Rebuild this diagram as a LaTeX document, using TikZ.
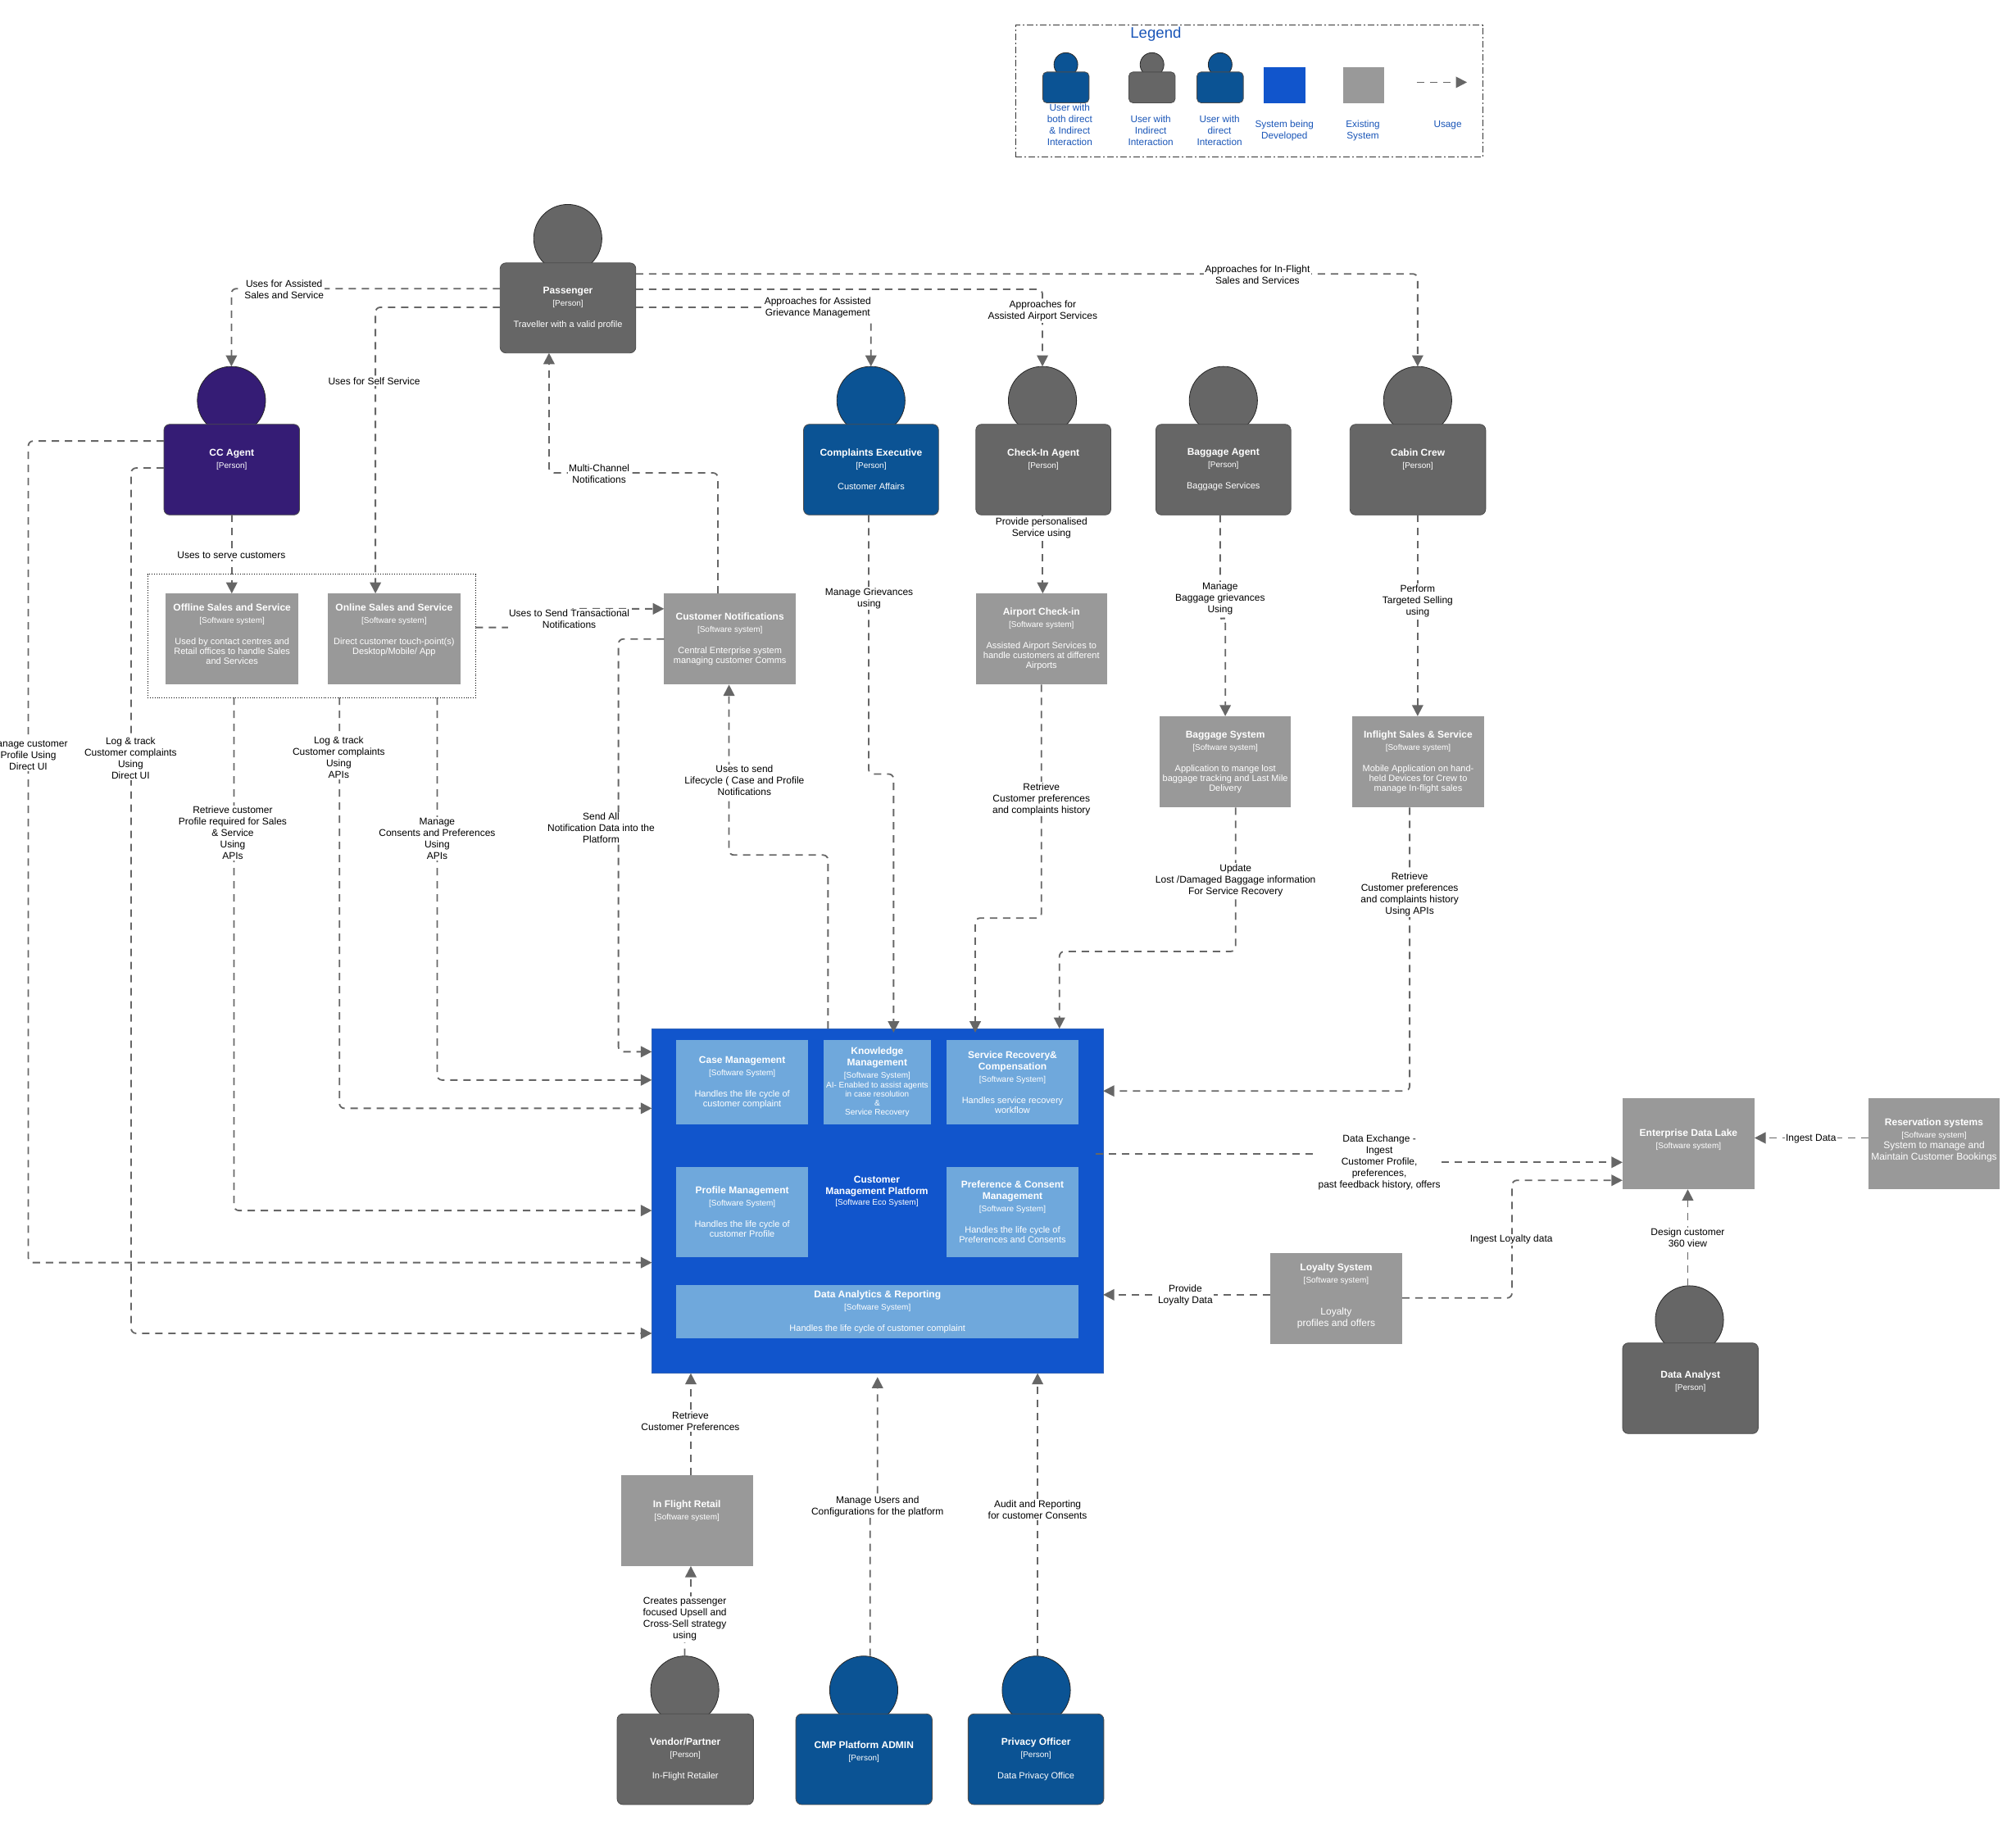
\documentclass[tikz,border=0pt]{standalone}
\usepackage{fontspec}
\setmainfont{Liberation Sans}
\usetikzlibrary{arrows.meta,calc}
\definecolor{sysgrey}{HTML}{999999}
\definecolor{pgrey}{HTML}{666666}
\definecolor{pblue}{HTML}{0B5394}
\definecolor{ppurple}{HTML}{351C75}
\definecolor{cmpblue}{HTML}{1155CC}
\definecolor{innerblue}{HTML}{6FA8DC}
\definecolor{legendblue}{HTML}{1A56B8}
\newcommand\ttlf{\fontsize{6}{7}\selectfont\bfseries}
\newcommand\typf{\fontsize{5}{7}\selectfont\mdseries}
\newcommand\descf{\fontsize{5.5}{7}\selectfont\mdseries}
\newcommand\tinyf{\fontsize{5}{7}\selectfont\mdseries}
\newcommand\lgf{\fontsize{6}{7}\selectfont\mdseries}
\newcommand\tl{\\\ttlf }
\newcommand\dl{\\[-1pt]\descf }
\newcommand\bx[3]{\ttlf #1\\[.5pt]\typf #2\\[6pt]\descf #3}
\tikzset{
  nodefont/.style={font=\fontsize{5.5}{7}\selectfont},
  headshape/.style={circle,draw=black!85,line width=.4pt,inner sep=0pt,outer sep=0pt},
  bodyshape/.style={rectangle,rounded corners=3.5pt,draw=black!70,line width=.4pt,inner sep=0pt,outer sep=0pt,align=center,text=white,nodefont},
  sysbox/.style={rectangle,inner sep=0pt,outer sep=0pt,align=center,text=white,nodefont},
  conn/.style={draw=pgrey,line width=.9pt,dash pattern=on 4.5pt off 3.5pt,rounded corners=3pt,-{Triangle[length=6.8pt,width=6.8pt,fill=pgrey]}},
  lbl/.style={align=center,fill=white,inner sep=.7pt,text=black,yshift=-.4pt,font=\fontsize{6}{7}\selectfont},
  legendtxt/.style={align=center,inner sep=0pt,text=legendblue,font=\fontsize{5.9}{7}\selectfont}
}
\newcommand\personnode[9]{%
  \pgfmathsetlengthmacro\nW{(#4-#2)*0.78444}%
  \pgfmathsetlengthmacro\nH{(#5-#3)*0.78444}%
  \node[headshape,fill=#8,minimum size=41.6pt,anchor=north] (#1H) at (#6,#7) {};
  \node[bodyshape,fill=#8,minimum width=\nW,minimum height=\nH] (#1) at ({(#2+#4)/2},{(#3+#5)/2}) {#9};
}
\newcommand\sysnode[7]{%
  \pgfmathsetlengthmacro\nW{(#4-#2)*0.78444}%
  \pgfmathsetlengthmacro\nH{(#5-#3)*0.78444}%
  \node[sysbox,fill=#6,minimum width=\nW,minimum height=\nH] (#1) at ({(#2+#4)/2},{(#3+#5)/2}) {#7};
}
\newcommand\legendperson[6]{%
  \pgfmathsetlengthmacro\nW{(#4-#2)*0.78444}%
  \pgfmathsetlengthmacro\nH{(#5-#3)*0.78444}%
  \node[headshape,fill=#6,minimum size=14.5pt,anchor=north] (#1H) at ({(#2+#4)/2},41) {};
  \node[bodyshape,rounded corners=2.5pt,fill=#6,minimum width=\nW,minimum height=\nH] (#1) at ({(#2+#4)/2},{(#3+#5)/2}) {};
}
\begin{document}
\begin{tikzpicture}[x=0.78444pt,y=-0.78444pt]
\path[use as bounding box,fill=white] (0,0) rectangle (1568,1415.7);

% Legend
\pgfmathsetlengthmacro\lgW{(1153.6-790)*0.78444}
\pgfmathsetlengthmacro\lgH{(122-19.5)*0.78444}
\node[draw=black!80,line width=.45pt,dash pattern=on 4pt off 1.5pt on 1pt off 1.5pt,minimum width=\lgW,minimum height=\lgH,inner sep=0pt] (legend) at ({(790+1153.6)/2},{(19.5+122)/2}) {};
\node[inner sep=0pt,text=legendblue,font=\fontsize{9.3}{11}\selectfont] (legendT) at (899,26.5) {Legend};
\legendperson{lgA}{811}{56}{847}{80}{pblue}
\legendperson{lgB}{878}{56}{914}{80}{pgrey}
\legendperson{lgC}{931}{56}{967}{80}{pblue}
\sysnode{lgD}{983}{52.5}{1015.5}{80}{cmpblue}{}
\sysnode{lgE}{1044.6}{52.5}{1076.5}{80}{sysgrey}{}
\node[legendtxt] (lgAt) at (832,97) {User with\\both direct\\\& Indirect\\Interaction};
\node[legendtxt] (lgBt) at (895,101.5) {User with\\Indirect\\Interaction};
\node[legendtxt] (lgCt) at (948.5,101.5) {User with\\direct\\Interaction};
\node[legendtxt] (lgDt) at (999,101.5) {System being\\Developed};
\node[legendtxt] (lgEt) at (1060,101.5) {Existing\\System};
\node[legendtxt] (lgFt) at (1126,97) {Usage};
\coordinate (usgA) at (1102,64);
\coordinate (usgB) at (1141,64);

% Persons
\personnode{pax}{389}{204.5}{494.5}{274.5}{441.6}{159}{pgrey}{\bx{Passenger}{[Person]}{Traveller with a valid profile}}
\personnode{cca}{127.5}{330}{233}{400.5}{180}{285}{ppurple}{\bx{CC Agent}{[Person]}{\mbox{}}}
\personnode{cex}{625}{330}{730}{400.5}{677.4}{285}{pblue}{\bx{Complaints Executive}{[Person]}{Customer Affairs}}
\personnode{cia}{759}{330}{864}{400.5}{810.8}{285}{pgrey}{\bx{Check-In Agent}{[Person]}{\mbox{}}}
\personnode{bag}{899}{330}{1004}{400.5}{951.5}{285}{pgrey}{\bx{Baggage Agent}{[Person]}{Baggage Services}}
\personnode{cab}{1050}{330}{1155.5}{400.5}{1102.6}{285}{pgrey}{\bx{Cabin Crew}{[Person]}{\mbox{}}}
\personnode{ana}{1262}{1044.5}{1367.5}{1115}{1314}{1000}{pgrey}{\ttlf Data Analyst\\[.5pt]\typf [Person]\\[2.5pt]\descf\mbox{}}
\personnode{ven}{480}{1333}{586}{1403.5}{532.6}{1288}{pgrey}{\bx{Vendor/Partner}{[Person]}{In-Flight Retailer}}
\personnode{adm}{619}{1333}{725}{1403.5}{671.8}{1288}{pblue}{\ttlf CMP Platform ADMIN\\[.5pt]\typf [Person]\\[2.5pt]\descf\mbox{}}
\personnode{prv}{753}{1333}{858.5}{1403.5}{806}{1288}{pblue}{\bx{Privacy Officer}{[Person]}{Data Privacy Office}}

% Channel group
\pgfmathsetlengthmacro\grW{(370-114.7)*0.78444}
\pgfmathsetlengthmacro\grH{(542.5-446.5)*0.78444}
\node[draw=black,line width=.45pt,densely dotted,minimum width=\grW,minimum height=\grH,inner sep=0pt,outer sep=0pt] (grp) at ({(114.7+370)/2},{(446.5+542.5)/2}) {};

% Software systems
\sysnode{off}{129}{461.6}{232}{532.5}{sysgrey}{\bx{Offline Sales and Service}{[Software system]}{Used by contact centres and\dl Retail offices to handle Sales\dl and Services\dl\mbox{}}}
\sysnode{onl}{255}{461.6}{358}{532.5}{sysgrey}{\bx{Online Sales and Service}{[Software system]}{Direct customer touch-point(s)\dl Desktop/Mobile/ App\dl\mbox{}\dl\mbox{}}}
\sysnode{ntf}{516.5}{461.6}{619}{532.5}{sysgrey}{\bx{Customer Notifications}{[Software system]}{Central Enterprise system\dl managing customer Comms}}
\sysnode{apt}{759}{461.6}{861}{532.5}{sysgrey}{\bx{Airport Check-in}{[Software system]}{Assisted Airport Services to\dl handle customers at different\dl Airports}}
\sysnode{bgs}{902}{557}{1004}{628}{sysgrey}{\bx{Baggage System}{[Software system]}{Application to mange lost\dl baggage tracking and Last Mile\dl Delivery}}
\sysnode{ifs}{1052}{557}{1154}{628}{sysgrey}{\bx{Inflight Sales \& Service}{[Software system]}{Mobile Application on hand-\dl held Devices for Crew to\dl manage In-flight sales}}
\sysnode{edl}{1262}{854}{1364.6}{925}{sysgrey}{\ttlf Enterprise Data Lake\\[.5pt]\typf [Software system]\\[-1pt]\descf\mbox{}}
\sysnode{res}{1453}{854}{1555.5}{925}{sysgrey}{\ttlf Reservation systems\\[.5pt]\typf [Software system]\\[-.6pt]\lgf System to manage and\\\lgf Maintain Customer Bookings\\[-1.5pt]\descf\mbox{}}
\sysnode{loy}{988}{974.5}{1090.5}{1045.5}{sysgrey}{\ttlf Loyalty System\\[.5pt]\typf [Software system]\\[12.5pt]\lgf Loyalty\\\lgf profiles and offers\\[-3pt]\descf\mbox{}}
\sysnode{ifr}{483}{1147.5}{585.5}{1218}{sysgrey}{\bx{In Flight Retail}{[Software system]}{\mbox{}}}

% Customer Management Platform
\pgfmathsetlengthmacro\cmW{(858-507)*0.78444}
\pgfmathsetlengthmacro\cmH{(1068-800)*0.78444}
\node[sysbox,fill=cmpblue,draw=cmpblue!70!gray,line width=.4pt,minimum width=\cmW,minimum height=\cmH] (cmp) at ({(507+858)/2},{(800+1068)/2}) {};
\sysnode{cas}{526}{809}{628.5}{874.5}{innerblue}{\bx{Case Management}{[Software System]}{Handles the life cycle of\dl customer complaint}}
\sysnode{kno}{640.5}{809}{724}{874.5}{innerblue}{\ttlf Knowledge\tl Management\\[.5pt]\typf [Software System]\\[-1pt]\tinyf AI- Enabled to assist agents\\[-1.5pt]\tinyf in case resolution\\[-1.5pt]\tinyf\&\\[-1.5pt]\tinyf Service Recovery}
\sysnode{srv}{736}{809}{839}{874.5}{innerblue}{\bx{Service Recovery\&\tl Compensation}{[Software System]}{Handles service recovery\dl workflow}}
\sysnode{prf}{526}{907.5}{628.5}{978}{innerblue}{\bx{Profile Management}{[Software System]}{Handles the life cycle of\dl customer Profile}}
\sysnode{pcm}{736}{907.5}{839}{978}{innerblue}{\bx{Preference \& Consent\tl Management}{[Software System]}{Handles the life cycle of\dl Preferences and Consents}}
\sysnode{dar}{526}{999.6}{839}{1041}{innerblue}{\bx{Data Analytics \& Reporting}{[Software System]}{Handles the life cycle of customer complaint}}
\node[inner sep=0pt,align=center,text=white,nodefont] (cmpT) at (682,926.5) {\ttlf Customer\tl Management Platform\\[-.5pt]\typf [Software Eco System]};

% Connectors
\draw[conn] (usgA) -- (usgB);
\draw[conn] (pax.west |- 0,224.5) -- (180,224.5) -- (ccaH.north);
\draw[conn] (pax.west |- 0,239) -- (292,239) -- (onl.north -| 292,0);
\draw[conn] (pax.east |- 0,239) -- (677.4,239) -- (cexH.north);
\draw[conn] (pax.east |- 0,225) -- (810.8,225) -- (ciaH.north);
\draw[conn] (pax.east |- 0,213) -- (1102.6,213) -- (cabH.north);
\draw[conn] (ntf.north -| 558.4,0) -- (558.4,367.8) -- (427,367.8) -- (pax.south -| 427,0);
\draw[conn] (cca.south) -- (off.north -| cca.south);
\draw[conn] (cca.west |- 0,343) -- (22,343) -- (22,982) -- (cmp.west |- 0,982);
\draw[conn] (cca.west |- 0,364) -- (102,364) -- (102,1037) -- (cmp.west |- 0,1037);
\draw[conn] (grp.east |- 0,488) -- (443,488) -- (443,473.5) -- (ntf.west |- 0,473.5);
\draw[conn] (ntf.west |- 0,497) -- (481,497) -- (481,818) -- (cmp.west |- 0,818);
\draw[conn] (cmp.north -| 644,0) -- (644,665) -- (567,665) -- (ntf.south -| 567,0);
\draw[conn] (cex.south -| 675.6,0) -- (675.6,602) -- (695,602) -- (695,803);
\draw[conn] (cia.south -| 811,0) -- (apt.north -| 811,0);
\draw[conn] (apt.south -| 810,0) -- (810,714) -- (758.5,714) -- (758.5,803);
\draw[conn] (bag.south -| 949,0) -- (949,481) -- (953,481) -- (bgs.north);
\draw[conn] (cab.south -| 1102.6,0) -- (ifs.north -| 1102.6,0);
\draw[conn] (bgs.south -| 961,0) -- (961,740) -- (824,740) -- (cmp.north -| 824,0);
\draw[conn] (ifs.south -| 1096.4,0) -- (1096.4,848.5) -- (cmp.east |- 0,848.5);
\draw[conn] (grp.south -| 182,0) -- (182,941.5) -- (cmp.west |- 0,941.5);
\draw[conn] (grp.south -| 264,0) -- (264,862) -- (cmp.west |- 0,862);
\draw[conn] (grp.south -| 340,0) -- (340,840) -- (cmp.west |- 0,840);
\draw[conn,rounded corners=0pt] (852,897.5) -- (1073,897.5) -- (1073,904) -- (edl.west |- 0,904);
\draw[conn] (loy.east |- 0,1009.5) -- (1176,1009.5) -- (1176,918) -- (edl.west |- 0,918);
\draw[conn] (loy.west |- 0,1007) -- (cmp.east |- 0,1007);
\draw[conn] (res.west |- 0,885) -- (edl.east |- 0,885);
\draw[conn] (anaH.north -| 1312.7,0) -- (edl.south -| 1312.7,0);
\draw[conn] (ifr.north -| 537.3,0) -- (cmp.south -| 537.3,0);
\draw[conn] (venH.north) -- (532.6,1259) -- (537.3,1259) -- (ifr.south -| 537.3,0);
\draw[conn] (admH.north -| 676.7,0) -- (676.7,1171) -- (682.5,1171) -- (682.5,1071);
\draw[conn] (prvH.north -| 807,0) -- (cmp.south -| 807,0);

% Connector labels
\node[lbl] (l01) at (221,224.5) {Uses for Assisted\\Sales and Service};
\node[lbl] (l02) at (291,296) {Uses for Self Service};
\node[lbl] (l03) at (636,239) {Approaches for Assisted\\Grievance Management};
\node[lbl] (l04) at (811,241.5) {Approaches for\\Assisted Airport Services};
\node[lbl] (l05) at (978,213) {Approaches for In-Flight\\Sales and Services};
\node[lbl] (l06) at (466,367.8) {Multi-Channel\\Notifications};
\node[lbl] (l07) at (180,431) {Uses to serve customers};
\node[lbl] (l08) at (22,587) {Manage customer\\Profile Using\\Direct UI};
\node[lbl] (l09) at (101.6,589.5) {Log \& track\\Customer complaints\\Using\\Direct UI};
\node[lbl] (l10) at (442.7,481) {Uses to Send Transactional\\Notifications};
\node[lbl] (l11) at (467.5,643.5) {Send All\\Notification Data into the\\Platform};
\node[lbl] (l12) at (579,606.6) {Uses to send\\Lifecycle ( Case and Profile\\Notifications};
\node[lbl] (l13) at (676,465) {Manage Grievances\\using};
\node[lbl] (l14) at (810,410) {Provide personalised\\Service using};
\node[lbl] (l15) at (810,621) {Retrieve\\Customer preferences\\and complaints history};
\node[lbl] (l16) at (949,465) {Manage\\Baggage grievances\\Using};
\node[lbl] (l17) at (1102.6,467) {Perform\\Targeted Selling\\using};
\node[lbl] (l18) at (961,684) {Update\\Lost /Damaged Baggage information\\For Service Recovery};
\node[lbl] (l19) at (1096.4,695) {Retrieve\\Customer preferences\\and complaints history\\Using APIs};
\node[lbl] (l20) at (181,647.3) {Retrieve customer\\Profile required for Sales\\\& Service\\Using\\APIs};
\node[lbl] (l21) at (263.5,588.7) {Log \& track\\Customer complaints\\Using\\APIs};
\node[lbl] (l22) at (340,651.8) {Manage\\Consents and Preferences\\Using\\APIs};
\node[lbl] (l23) at (1072.8,903.6) {Data Exchange -\\Ingest\\Customer Profile,\\preferences,\\past feedback history, offers};
\node[lbl] (l24) at (1175.5,963.7) {Ingest Loyalty data};
\node[lbl] (l25) at (921.9,1007) {Provide\\Loyalty Data};
\node[lbl] (l26) at (1408.5,885) {Ingest Data};
\node[lbl] (l27) at (1312.7,962.4) {Design customer\\360 view};
\node[lbl] (l28) at (537,1105) {Retrieve\\Customer Preferences};
\node[lbl] (l29) at (532.6,1259) {Creates passenger\\focused Upsell and\\Cross-Sell strategy\\using};
\node[lbl] (l30) at (682.5,1171) {Manage Users and\\Configurations for the platform};
\node[lbl] (l31) at (807,1174) {Audit and Reporting\\for customer Consents};
\end{tikzpicture}
\end{document}
